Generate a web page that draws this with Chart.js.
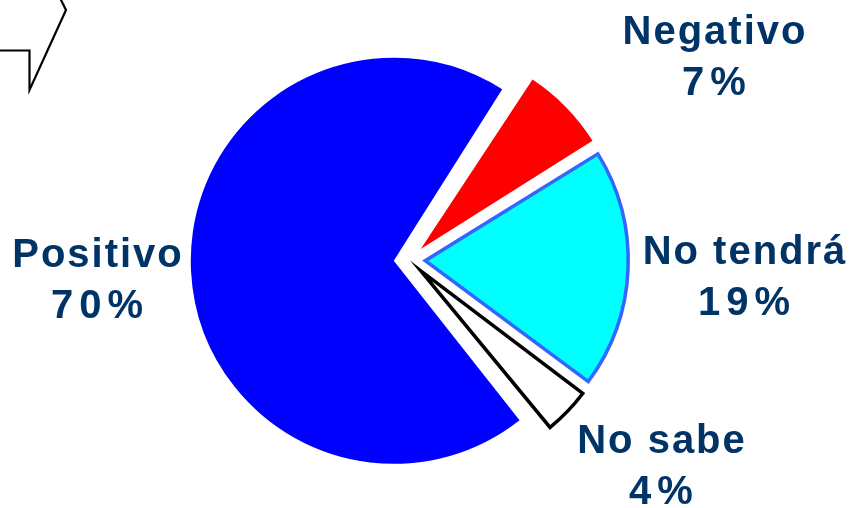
<!DOCTYPE html>
<html>
<head>
<meta charset="utf-8">
<script src="https://cdn.jsdelivr.net/npm/chart.js@4/dist/chart.umd.min.js"></script>
<style>
  html, body { margin: 0; padding: 0; background: #ffffff; }
  #wrap { width: 851px; height: 508px; }
</style>
</head>
<body>
<div id="wrap"><canvas id="c" width="851" height="508"></canvas></div>
<script>
// ---- data ----
const categories = ['Negativo', 'No tendrá', 'No sabe', 'Positivo'];
const percentages = [7, 19, 4, 70];

// ---- styles ----
const fillColors = ['#ff0000', '#00ffff', '#ffffff', '#0000ff'];
const edgeColors = ['#ff0000', '#3366ff', '#000000', '#0000ff'];
const edgeWidths = [0, 3.5, 3.5, 0];
const EXPLODE = 63;
const TEXT_COLOR = '#003366';
const NAME_FONT = 'bold 40px "Liberation Sans", Arial, sans-serif';
const NAME_SPACING = 2;
const PCT_SPACING = 6;
// label anchors (centre x, baseline y of first line)
const labelAnchors = [
  [714, 44],
  [744, 264],
  [661, 453],
  [97, 267]
];
const LINE_GAP = 51;

const radiusFix = {
  id: 'radiusFix',
  afterDatasetUpdate(chart, args) {
    const meta = args.meta;
    meta.data.forEach(el => {
      const o = (el.options && el.options.offset || 0) / 4;
      const fix = 1 - Math.sin(Math.min(Math.PI, el.circumference || 0));
      el.outerRadius = el.outerRadius - o * fix;
    });
  }
};

const labelsPlugin = {
  id: 'sliceLabels',
  afterDatasetsDraw(chart) {
    const ctx = chart.ctx;
    ctx.save();
    ctx.fillStyle = TEXT_COLOR;
    ctx.font = NAME_FONT;
    ctx.textAlign = 'center';
    ctx.textBaseline = 'alphabetic';
    categories.forEach((name, i) => {
      const [x, y] = labelAnchors[i];
      ctx.letterSpacing = NAME_SPACING + 'px';
      ctx.fillText(name, x + NAME_SPACING / 2, y);
      ctx.letterSpacing = PCT_SPACING + 'px';
      ctx.fillText(percentages[i] + '%', x + PCT_SPACING / 2, y + LINE_GAP);
    });
    ctx.restore();
  }
};

const decoration = {
  id: 'decoration',
  afterDraw(chart) {
    const ctx = chart.ctx;
    ctx.save();
    ctx.strokeStyle = '#000000';
    ctx.lineWidth = 2.2;
    ctx.lineJoin = 'miter';
    ctx.beginPath();
    ctx.moveTo(0, 50.5);
    ctx.lineTo(29.5, 50.5);
    ctx.lineTo(29.5, 90);
    ctx.lineTo(66, 10);
    ctx.lineTo(60, -2);
    ctx.stroke();
    ctx.restore();
  }
};

new Chart(document.getElementById('c'), {
  type: 'pie',
  data: {
    labels: categories,
    datasets: [{
      data: percentages,
      backgroundColor: fillColors,
      borderColor: edgeColors,
      borderWidth: edgeWidths,
      borderJoinStyle: 'miter',
      offset: EXPLODE
    }]
  },
  options: {
    responsive: false,
    animation: false,
    rotation: 33,
    radius: 203,
    layout: { padding: { left: 0, right: 32, top: 12, bottom: 0 } },
    plugins: {
      legend: { display: false },
      tooltip: { enabled: false }
    }
  },
  plugins: [radiusFix, labelsPlugin, decoration]
});
</script>
</body>
</html>
